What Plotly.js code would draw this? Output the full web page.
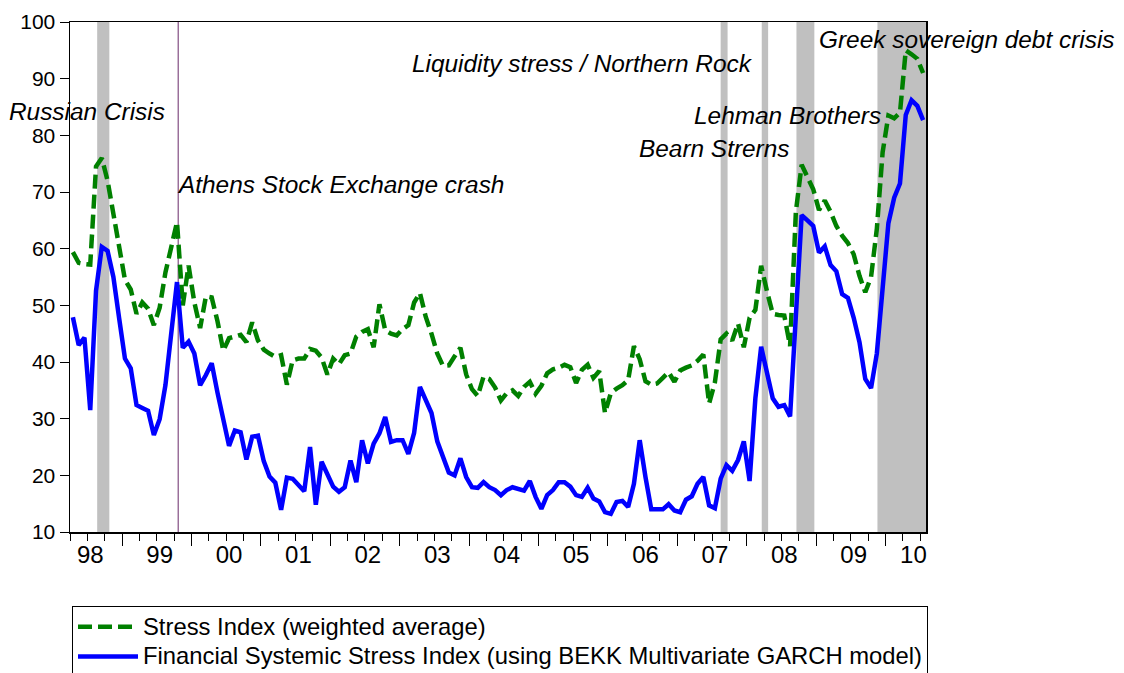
<!DOCTYPE html>
<html>
<head>
<meta charset="utf-8">
<script src="https://cdn.plot.ly/plotly-3.0.1.min.js"></script>
<style>html,body{margin:0;padding:0;background:#fff;}#chart{width:1124px;height:673px;}</style>
</head>
<body>
<div id="chart"></div>
<script>
// Monthly observations, April 1998 .. July 2010 (148 months)
const startYear = 1998, startMonth = 4;

// Stress Index (weighted average)
const stressIndex = [
59.4,57.5,57.3,57.2,74.5,76.0,72.0,66.0,60.0,54.5,52.8,48.5,
50.5,49.4,46.5,49.6,55.8,60.5,64.7,50.0,57.0,50.5,46.0,51.6,
51.4,47.2,42.0,44.2,44.4,44.8,43.5,47.0,43.8,42.2,41.5,40.9,
41.2,36.0,40.3,40.6,40.6,42.3,42.0,40.8,37.8,40.6,39.6,41.2,
41.5,44.5,45.3,45.8,42.6,50.2,45.6,45.0,44.7,45.8,46.5,50.5,
52.2,48.0,45.0,41.5,39.3,39.4,41.0,42.5,37.8,35.2,34.0,37.4,
37.0,35.5,33.2,34.5,35.0,34.0,35.6,36.5,34.4,35.8,38.0,38.7,
39.0,39.5,39.1,36.3,38.6,39.5,37.2,38.4,31.0,34.5,35.3,35.9,
36.8,42.8,40.5,36.6,36.0,36.2,37.2,38.2,36.5,38.5,39.0,39.4,
40.2,41.3,32.7,36.4,44.0,45.0,43.8,46.8,42.6,47.8,49.2,57.0,
52.5,48.5,48.3,48.2,42.8,66.5,74.8,72.5,70.5,66.8,68.5,66.5,
64.0,62.3,61.0,59.0,55.2,52.3,55.0,63.5,77.0,83.5,83.0,84.0,
95.0,94.3,93.5,91.0
];

// Financial Systemic Stress Index (BEKK Multivariate GARCH)
const fssi = [
47.9,43.0,44.3,31.5,52.6,60.3,59.6,55.0,47.7,40.6,38.9,32.4,
31.9,31.4,27.1,29.9,35.9,44.5,54.1,42.5,43.6,41.5,35.9,37.7,
39.8,34.6,29.8,25.2,27.9,27.6,22.8,26.8,27.0,22.5,19.8,18.7,
13.9,19.6,19.4,18.2,17.2,25.0,14.8,22.4,20.0,18.0,17.1,17.9,
22.6,18.8,26.2,22.1,25.6,27.4,30.3,25.9,26.2,26.2,23.8,27.5,
35.6,33.3,31.0,26.0,23.2,20.5,20.0,23.0,19.7,17.9,17.8,18.8,
17.9,17.4,16.5,17.4,17.9,17.7,17.3,19.0,16.2,14.1,16.5,17.4,
18.8,18.8,18.0,16.5,16.2,17.8,15.9,15.4,13.5,13.2,15.3,15.5,
14.4,18.5,26.2,19.7,14.0,14.0,14.0,14.9,13.8,13.5,15.7,16.3,
18.5,19.7,14.7,14.2,19.4,21.8,20.8,22.7,26.0,19.0,33.6,42.7,
38.4,33.6,32.1,32.4,30.4,48.0,65.9,65.0,64.0,59.3,60.4,57.1,
56.0,52.0,51.3,47.8,43.5,37.0,35.4,41.5,52.0,64.5,69.0,71.5,
83.6,86.2,85.2,82.7
];

const seriesNames = ["Stress Index (weighted average)",
  "Financial Systemic Stress Index (using BEKK Multivariate GARCH model)"];

const yearLabels = ["98","99","00","01","02","03","04","05","06","07","08","09","10"];
const yearLabelPos = [1998.5,1999.5,2000.5,2001.5,2002.5,2003.5,2004.5,2005.5,2006.5,2007.5,2008.5,2009.5,2010.36];

// Shaded crisis periods (fractional years) and event line
const shadedPeriods = [[1998.60,1998.775],[2007.583,2007.683],[2008.175,2008.267],[2008.675,2008.933],[2009.842,2010.56]];
const athensCrash = 1999.767;

const events = [
  {text:"Russian Crisis", px:7, py:111},
  {text:"Athens Stock Exchange crash", px:175, py:184},
  {text:"Liquidity stress / Northern Rock", px:410, py:63},
  {text:"Bearn Strerns", px:637, py:148},
  {text:"Lehman Brothers", px:692, py:115},
  {text:"Greek sovereign debt crisis", px:817, py:39}
];

// time coordinate for each observation
const x = stressIndex.map((_, i) => startYear + (startMonth - 1 + i) / 12);
const xMin = startYear + (startMonth - 1) / 12 - 1/24;
const xMax = x[x.length - 1] + 1/24;

const FONT = "Liberation Sans, Arial, sans-serif";
const L = 70, R = 926, T = 22, B = 532, W = 1124, H = 673;
const toPX = px => (px - L) / (R - L);
const toPY = py => (B - py) / (B - T);

const shapes = shadedPeriods.map(p => ({
  type:"rect", xref:"x", yref:"paper", x0:p[0], x1:p[1], y0:0, y1:1,
  fillcolor:"#C0C0C0", line:{width:0}, layer:"below"
}));
shapes.push({type:"line", xref:"x", yref:"paper", x0:athensCrash, x1:athensCrash, y0:0, y1:1,
  line:{color:"#6a2a6a", width:1}, layer:"below"});

const annotations = events.map(e => ({
  text:e.text, xref:"paper", yref:"paper", x:toPX(e.px), y:toPY(e.py),
  xanchor:"left", yanchor:"middle", showarrow:false,
  font:{family:FONT, size:24.4, color:"#000", style:"italic"}
}));

const boundaries = [];
for (let yy = 1999; yy <= 2010; yy++) boundaries.push(yy - 1/24);

const legendName = s => '<span style="font-size:23.8px">' + s + '</span>';

const traces = [
  {x:x, y:stressIndex, type:"scatter", mode:"lines", name:legendName(seriesNames[0]),
   line:{color:"#008000", width:4.5, dash:"14px,6px"}},
  {x:x, y:fssi, type:"scatter", mode:"lines", name:legendName(seriesNames[1]),
   line:{color:"#0000FF", width:4.5}},
  {x:[xMin], y:[null], xaxis:"x2", yaxis:"y", showlegend:false, hoverinfo:"skip", mode:"lines"}
];

const layout = {
  width:W, height:H,
  margin:{l:L, r:W-R, t:T, b:H-B, pad:0, autoexpand:false},
  paper_bgcolor:"#fff", plot_bgcolor:"#fff",
  font:{family:FONT, color:"#000"},
  showlegend:true,
  legend:{x:toPX(72), y:toPY(606), xanchor:"left", yanchor:"top",
    bordercolor:"#000", borderwidth:1, bgcolor:"#fff",
    font:{family:FONT, size:20.5, color:"#000"}, itemwidth:60, tracegroupgap:0},
  xaxis:{range:[xMin, xMax], showgrid:false, zeroline:false,
    showline:true, linecolor:"#000", linewidth:1.5, mirror:true,
    tickmode:"array", tickvals:boundaries, ticks:"outside", ticklen:12, tickwidth:1, tickcolor:"#000",
    showticklabels:false,
    minor:{tick0:xMin, dtick:0.25, ticks:"outside", ticklen:7, tickwidth:1, tickcolor:"#000", showgrid:false}},
  xaxis2:{overlaying:"x", anchor:"y", side:"bottom", range:[xMin, xMax], showgrid:false, zeroline:false,
    showline:false, tickmode:"array", tickvals:yearLabelPos, ticktext:yearLabels,
    ticks:"outside", ticklen:1, tickcolor:"rgba(0,0,0,0)",
    tickfont:{family:FONT, size:24, color:"#000"}},
  yaxis:{range:[10,100], showgrid:false, zeroline:false,
    showline:true, linecolor:"#000", linewidth:1.5, mirror:true,
    tickmode:"array", tickvals:[10,20,30,40,50,60,70,80,90,100],
    ticks:"outside", ticklen:9, tickwidth:1, tickcolor:"#000",
    tickfont:{family:FONT, size:21, color:"#000"}},
  shapes:shapes,
  annotations:annotations
};

Plotly.newPlot("chart", traces, layout, {displayModeBar:false, staticPlot:true});
</script>
</body>
</html>
